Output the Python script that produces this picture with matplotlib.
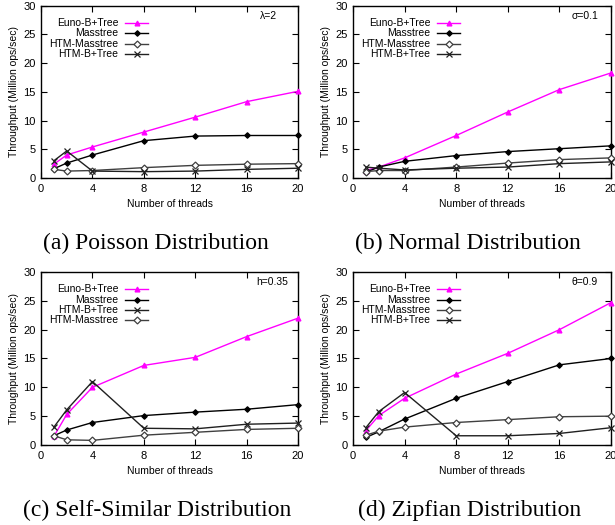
import matplotlib
matplotlib.use("Agg")
import matplotlib.pyplot as plt

plt.rcParams["font.family"] = ["Liberation Sans", "DejaVu Sans"]

threads = [1, 2, 4, 8, 12, 16, 20]

# (a) Poisson
poisson_euno = [2.4, 4.0, 5.4, 8.0, 10.6, 13.3, 15.1]
poisson_mass = [1.6, 2.6, 4.0, 6.5, 7.3, 7.4, 7.4]
poisson_htm_mass = [1.5, 1.2, 1.3, 1.8, 2.2, 2.4, 2.5]
poisson_htm_bt = [3.0, 4.7, 1.2, 1.1, 1.2, 1.5, 1.7]

# (b) Normal
normal_euno = [1.3, 1.9, 3.5, 7.4, 11.5, 15.4, 18.3]
normal_mass = [1.0, 1.9, 2.9, 3.9, 4.6, 5.1, 5.6]
normal_htm_mass = [1.1, 1.3, 1.3, 1.9, 2.6, 3.2, 3.5]
normal_htm_bt = [1.9, 1.7, 1.4, 1.7, 1.9, 2.5, 2.8]

# (c) Self-similar
selfsim_euno = [1.5, 5.3, 10.0, 13.8, 15.2, 18.8, 22.0]
selfsim_mass = [1.6, 2.6, 3.9, 5.1, 5.7, 6.2, 7.0]
selfsim_htm_bt = [3.1, 6.1, 11.0, 2.9, 2.8, 3.6, 3.8]
selfsim_htm_mass = [1.6, 0.9, 0.8, 1.7, 2.2, 2.7, 2.9]

# (d) Zipfian
zipf_euno = [2.5, 5.1, 8.1, 12.3, 15.9, 20.0, 24.7]
zipf_mass = [1.3, 2.3, 4.5, 8.1, 11.0, 13.9, 15.0]
zipf_htm_mass = [1.7, 2.4, 3.1, 3.9, 4.4, 4.9, 5.0]
zipf_htm_bt = [3.0, 5.8, 9.1, 1.6, 1.6, 2.0, 3.0]

styles = {
    "Euno-B+Tree": dict(color="#ff00ff", marker="^", ms=3.5, mfc="#ff00ff"),
    "Masstree": dict(color="black", marker="D", ms=2.8, mfc="black"),
    "HTM-Masstree": dict(color="#404040", marker="D", ms=3.5, mfc="white"),
    "HTM-B+Tree": dict(color="#202020", marker="x", ms=4.5, mfc="none"),
}

panels = [
    ("λ=2", "(a) Poisson Distribution",
     [("Euno-B+Tree", poisson_euno), ("Masstree", poisson_mass),
      ("HTM-Masstree", poisson_htm_mass), ("HTM-B+Tree", poisson_htm_bt)]),
    ("σ=0.1", "(b) Normal Distribution",
     [("Euno-B+Tree", normal_euno), ("Masstree", normal_mass),
      ("HTM-Masstree", normal_htm_mass), ("HTM-B+Tree", normal_htm_bt)]),
    ("h=0.35", "(c) Self-Similar Distribution",
     [("Euno-B+Tree", selfsim_euno), ("Masstree", selfsim_mass),
      ("HTM-B+Tree", selfsim_htm_bt), ("HTM-Masstree", selfsim_htm_mass)]),
    ("θ=0.9", "(d) Zipfian Distribution",
     [("Euno-B+Tree", zipf_euno), ("Masstree", zipf_mass),
      ("HTM-Masstree", zipf_htm_mass), ("HTM-B+Tree", zipf_htm_bt)]),
]

fig = plt.figure(figsize=(6.15, 5.25), dpi=100)
rects = [
    [0.0667, 0.661, 0.418, 0.328],
    [0.574, 0.661, 0.4195, 0.328],
    [0.0667, 0.1524, 0.418, 0.3295],
    [0.574, 0.1524, 0.4195, 0.3295],
]
caption_pos = [(0.253, 0.537), (0.761, 0.537), (0.255, 0.028), (0.763, 0.028)]
param_x = [0.92, 0.95, 0.96, 0.95]

for i, (param, caption, series) in enumerate(panels):
    ax = fig.add_axes(rects[i])
    for name, vals in series:
        st = styles[name]
        ax.plot(threads, vals, color=st["color"], lw=1.0, marker=st["marker"],
                ms=st["ms"], mfc=st["mfc"], mec=st["color"], mew=0.9,
                clip_on=False, zorder=3)
    # gnuplot style key: right aligned text, sample line to the right
    rows = [0.90, 0.84, 0.78, 0.72]
    for (name, vals), y in zip(series, rows):
        st = styles[name]
        ax.text(0.30, y, name, transform=ax.transAxes, ha="right",
                va="center", fontsize=7.5)
        ax.plot([0.327, 0.416], [y, y], transform=ax.transAxes,
                color=st["color"], lw=1.0)
        ax.plot([0.3715], [y], transform=ax.transAxes, marker=st["marker"],
                ms=st["ms"], mfc=st["mfc"], mec=st["color"], mew=0.9,
                color=st["color"])
    ax.text(param_x[i], 0.94, param, transform=ax.transAxes, ha="right",
            va="center", fontsize=7.5)
    ax.set_xlim(0, 20)
    ax.set_ylim(0, 30)
    ax.set_xticks([0, 4, 8, 12, 16, 20])
    ax.set_yticks([0, 5, 10, 15, 20, 25, 30])
    ax.tick_params(direction="in", top=True, right=True, length=4,
                   width=0.8, labelsize=8, pad=4)
    for sp in ax.spines.values():
        sp.set_linewidth(1.0)
    ax.set_xlabel("Number of threads", fontsize=7.5, labelpad=4)
    ax.set_ylabel("Throughput (Million ops/sec)", fontsize=7.5, labelpad=3)
    fig.text(caption_pos[i][0], caption_pos[i][1], caption, ha="center",
             va="center", fontsize=17, family=["Liberation Serif", "DejaVu Serif"])

fig.savefig("out.png", dpi=100)
